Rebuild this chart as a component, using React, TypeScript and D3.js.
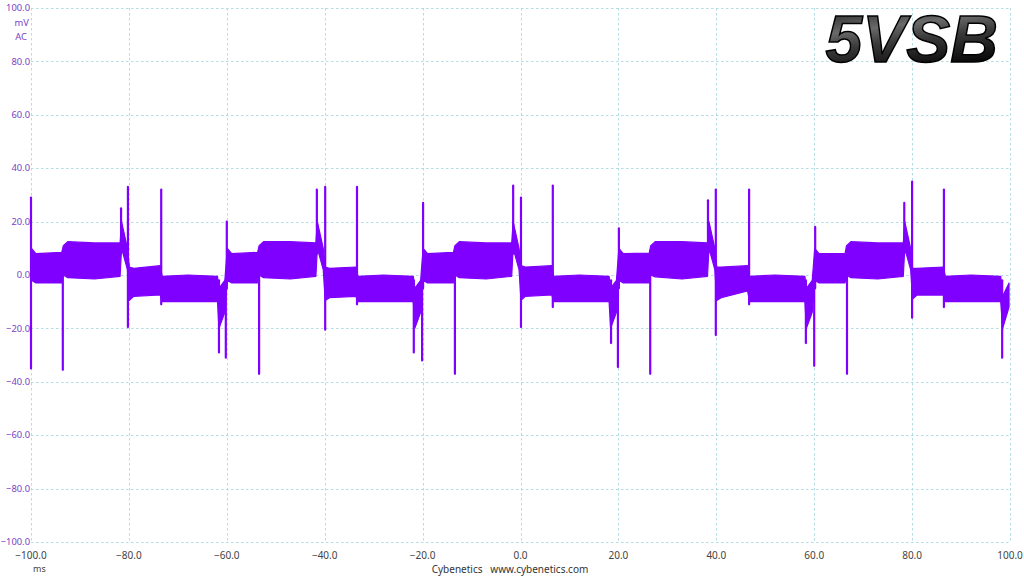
import { useEffect, useRef } from "react";
import * as d3 from "d3";

// axis ticks
const xTicks = [-100, -80, -60, -40, -20, 0, 20, 40, 60, 80, 100];
const yTicks = [100, 80, 60, 40, 20, 0, -20, -40, -60, -80, -100];

// envelope of the noisy band (ms, mV), one line per 40 ms period
const bandT = [
  -99.9, -99.0, -93.7, -93.4, -92.5, -87, -81.8, -81.5, -80.3, -79.9, -79, -73.6, -73.2, -68, -61.9, -61.6, -60.4,
  -59.9, -59.0, -53.7, -53.4, -52.5, -47, -41.8, -41.5, -40.3, -39.9, -39, -33.6, -33.2, -28, -21.9, -21.6, -20.4,
  -19.9, -19.0, -13.7, -13.4, -12.5, -7, -1.8, -1.5, -0.3, 0.1, 1, 6.4, 6.8, 12, 18.1, 18.4, 19.6,
  20.1, 21, 26.3, 26.6, 27.5, 33, 38.2, 38.5, 39.7, 40.1, 41, 46.4, 46.8, 52, 58.1, 58.4, 59.6,
  60.1, 61, 66.3, 66.6, 67.5, 73, 78.2, 78.5, 79.7, 80.1, 81, 86.4, 86.8, 92, 98.1, 98.5, 99.8,
];
const bandHi = [
  10, 8, 8.5, 11, 12.5, 12, 12, 20, 10, 3, 2.5, 3.5, -0.5, 0, -0.5, -5, -2,
  10, 8, 8.5, 11, 12.5, 12.5, 12, 20, 10, 3, 2.5, 3, -0.5, 0, -0.5, -5, -2,
  10, 8, 8.5, 11, 12.5, 12, 12, 20, 10, 3.5, 3, 3.5, -0.5, 0, -0.5, -5, -2,
  10, 8, 8.2, 11, 12.5, 12.5, 12, 20, 10, 3, 3, 3.5, -0.5, 0, -0.5, -5, -2,
  10, 8, 8, 11, 12.5, 12, 12, 20, 10, 2.5, 2.5, 3, -0.5, 0, -0.5, -8, -3,
];
const bandLo = [
  -2, -3, -3, 0, -1, -1.5, -0.5, 10, 2, -9.5, -8, -7.5, -10, -10, -10, -20, -14,
  -2, -3, -3, 0, -1, -1.5, -0.5, 10, 2, -9.5, -8.5, -8, -10, -10, -10, -20, -14,
  -2, -3, -3, 0, -1, -1.5, -0.5, 10, 2, -9.5, -8, -7.5, -10, -10, -10, -20, -14,
  -2, -3, -3, 0, -0.7, -1.5, -0.5, 10, 2, -9.5, -8.5, -6, -10, -10, -10, -20, -14,
  -2, -3, -3, 0, -1, -1.5, -0.5, 10, 2, -9, -7.5, -7.5, -10, -10, -10, -20, -12,
];

// switching spikes (ms, min mV, max mV)
const spikeT = [
  -100, -93.5, -81.6, -80.2, -73.4, -61.6, -60.2,
  -60, -53.4, -41.6, -39.9, -33.4, -21.8, -20.1,
  -19.9, -13.4, -1.5, 0.1, 6.6, 18.5, 19.9,
  20.1, 26.5, 38.3, 39.9, 46.7, 58.3, 60.0,
  60.2, 66.7, 78.4, 80.0, 86.5, 98.4,
];
const spikeMax = [
  29, 9, 25, 33, 32, -2, -2,
  20, 9, 32, 33, 33, -2, -2,
  27, 9, 33.5, 29, 33.5, -2, -2,
  17.5, 9, 28, 32, 32, -2, -2,
  18, 9, 27, 35, 32, -2,
];
const spikeMin = [
  -35, -35.5, 8, -19.5, -11, -29, -31,
  -5, -37, 8, -20.5, -11, -29, -32,
  -5, -37, 8, -19.5, -12, -25.5, -34.5,
  -5, -37, 8, -22.5, -11, -25.5, -34,
  -5, -37, 8, -16, -12, -31,
];

const W = 1024;
const H = 576;
const TRACE = "#8000ff";
const FONT = "'Noto Sans', 'Open Sans', sans-serif";

export default function App() {
  const ref = useRef<SVGSVGElement | null>(null);

  useEffect(() => {
    if (!ref.current) return;
    const svg = d3.select(ref.current);
    svg.selectAll("*").remove();

    const x = d3.scaleLinear().domain([-100, 100]).range([31, 1010]);
    const y = d3.scaleLinear().domain([-100, 100]).range([542, 8]);

    svg.append("rect").attr("width", W).attr("height", H).attr("fill", "#fff");

    // grid
    const grid = svg.append("g").attr("stroke", "#b4dce4").attr("stroke-width", 1).attr("stroke-dasharray", "2.5,2.5");
    grid
      .selectAll("line.v")
      .data(xTicks)
      .enter()
      .append("line")
      .attr("x1", (d) => Math.round(x(d)) + 0.5)
      .attr("x2", (d) => Math.round(x(d)) + 0.5)
      .attr("y1", y(100))
      .attr("y2", y(-100));
    grid
      .selectAll("line.h")
      .data(yTicks)
      .enter()
      .append("line")
      .attr("x1", x(-100))
      .attr("x2", x(100))
      .attr("y1", (d) => Math.round(y(d)) + 0.5)
      .attr("y2", (d) => Math.round(y(d)) + 0.5);

    // y labels
    svg
      .append("g")
      .selectAll("text")
      .data(yTicks)
      .enter()
      .append("text")
      .attr("x", 30)
      .attr("y", (d) => y(d))
      .attr("dy", "0.35em")
      .attr("text-anchor", "end")
      .attr("font-family", FONT)
      .attr("font-size", 9.4)
      .attr("fill", "#7b3fc4")
      .text((d) => d3.format(".1f")(d));
    svg
      .append("text")
      .attr("x", 29)
      .attr("y", 23)
      .attr("dy", "0.35em")
      .attr("text-anchor", "end")
      .attr("font-family", FONT)
      .attr("font-size", 9.4)
      .attr("fill", "#7b3fc4")
      .text("mV");
    svg
      .append("text")
      .attr("x", 27)
      .attr("y", 37)
      .attr("dy", "0.35em")
      .attr("text-anchor", "end")
      .attr("font-family", FONT)
      .attr("font-size", 9.4)
      .attr("fill", "#7b3fc4")
      .text("AC");

    // x labels
    svg
      .append("g")
      .selectAll("text")
      .data(xTicks)
      .enter()
      .append("text")
      .attr("x", (d) => x(d))
      .attr("y", 555)
      .attr("dy", "0.35em")
      .attr("text-anchor", "middle")
      .attr("font-family", FONT)
      .attr("font-size", 10)
      .attr("fill", "#444")
      .text((d) => d3.format(".1f")(d));
    svg
      .append("text")
      .attr("x", 33)
      .attr("y", 569)
      .attr("dy", "0.35em")
      .attr("font-family", FONT)
      .attr("font-size", 9)
      .attr("fill", "#444")
      .text("ms");
    svg
      .append("text")
      .attr("x", 510)
      .attr("y", 569)
      .attr("dy", "0.35em")
      .attr("text-anchor", "middle")
      .attr("font-family", FONT)
      .attr("font-size", 10)
      .attr("fill", "#333")
      .attr("xml:space", "preserve")
      .text("Cybenetics   www.cybenetics.com");

    // band
    const idx = d3.range(bandT.length);
    const area = d3
      .area<number>()
      .x((i) => x(bandT[i]))
      .y0((i) => y(bandLo[i]))
      .y1((i) => y(bandHi[i]))
      .curve(d3.curveLinear);
    svg
      .append("path")
      .datum(idx)
      .attr("d", area)
      .attr("fill", TRACE)
      .attr("stroke", TRACE)
      .attr("stroke-width", 1.2)
      .attr("stroke-linejoin", "round");

    // spikes
    svg
      .append("g")
      .selectAll("line")
      .data(d3.range(spikeT.length))
      .enter()
      .append("line")
      .attr("x1", (i) => x(spikeT[i]))
      .attr("x2", (i) => x(spikeT[i]))
      .attr("y1", (i) => y(spikeMax[i]))
      .attr("y2", (i) => y(spikeMin[i]))
      .attr("stroke", TRACE)
      .attr("stroke-width", 2.2)
      .attr("stroke-linecap", "round");

    // title
    const defs = svg.append("defs");
    const grad = defs
      .append("linearGradient")
      .attr("id", "metal")
      .attr("x1", 0)
      .attr("y1", 0)
      .attr("x2", 0.3)
      .attr("y2", 1);
    grad.append("stop").attr("offset", "0%").attr("stop-color", "#111");
    grad.append("stop").attr("offset", "40%").attr("stop-color", "#6a6a6a");
    grad.append("stop").attr("offset", "60%").attr("stop-color", "#3a3a3a");
    grad.append("stop").attr("offset", "100%").attr("stop-color", "#050505");
    svg
      .append("text")
      .attr("x", 998)
      .attr("y", 62)
      .attr("text-anchor", "end")
      .attr("font-family", "'Liberation Sans', Arial, sans-serif")
      .attr("font-weight", "bold")
      .attr("font-style", "italic")
      .attr("font-size", 66)
      .attr("fill", "url(#metal)")
      .attr("stroke", "#000")
      .attr("stroke-width", 1.5)
      .text("5VSB");
  }, []);

  return (
    <svg
      ref={ref}
      width={W}
      height={H}
      viewBox={`0 0 ${W} ${H}`}
      style={{ position: "absolute", left: 0, top: 0 }}
    />
  );
}
